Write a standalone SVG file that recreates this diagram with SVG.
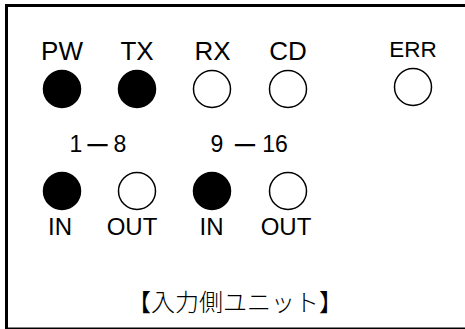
<svg xmlns="http://www.w3.org/2000/svg" width="465" height="329" viewBox="0 0 465 329">
<style>
.lbl{font-family:"Liberation Sans",Arial,sans-serif;fill:#000;text-anchor:middle}
.on{fill:#000;stroke:#000;stroke-width:1.5}
.off{fill:#fff;stroke:#000;stroke-width:1.5}
.dash{font-family:"Noto Sans CJK JP","Noto Sans CJK SC",sans-serif;font-size:28px;font-weight:500}
.jp{font-family:"Noto Sans CJK JP","Noto Sans CJK SC",sans-serif;font-size:24px;font-weight:300;fill:#000;text-anchor:middle}
</style>
<rect width="465" height="329" fill="#fff"/>
<g id="frame"><rect x="6.5" y="5.5" width="470" height="323.5" fill="none" stroke="#000" stroke-width="3"/></g>
<g id="pw"><text class="lbl" x="62" y="60" font-size="26">PW</text><circle class="on" cx="62" cy="89" r="18.5"/></g>
<g id="tx"><text class="lbl" x="137" y="60" font-size="26">TX</text><circle class="on" cx="137" cy="89" r="18.5"/></g>
<g id="rx"><text class="lbl" x="212.5" y="60" font-size="26">RX</text><circle class="off" cx="212" cy="89" r="18.5"/></g>
<g id="cd"><text class="lbl" x="288" y="60" font-size="26">CD</text><circle class="off" cx="288" cy="89" r="18.5"/></g>
<g id="err"><text class="lbl" x="413" y="57" font-size="22.5">ERR</text><circle class="off" cx="413" cy="87" r="18.5"/></g>
<g id="range1"><text class="lbl" font-size="23" y="152"><tspan x="76">1</tspan><tspan x="97.5" dy="4" class="dash">－</tspan><tspan x="120" dy="-4">8</tspan></text></g>
<g id="range2"><text class="lbl" font-size="23" y="152"><tspan x="217">9</tspan><tspan x="245" dy="4" class="dash">－</tspan><tspan x="275" dy="-4">16</tspan></text></g>
<g id="in1"><circle class="on" cx="62" cy="191" r="18.5"/><text class="lbl" x="60" y="235" font-size="24">IN</text></g>
<g id="out1"><circle class="off" cx="137" cy="191" r="18.5"/><text class="lbl" x="132" y="235" font-size="24">OUT</text></g>
<g id="in2"><circle class="on" cx="212" cy="191" r="18.5"/><text class="lbl" x="211.5" y="235" font-size="24">IN</text></g>
<g id="out2"><circle class="off" cx="288" cy="191" r="18.5"/><text class="lbl" x="286" y="235" font-size="24">OUT</text></g>
<g id="title"><text class="jp" x="235" y="311" textLength="216" lengthAdjust="spacingAndGlyphs">【入力側ユニット】</text></g>
<g id="connectors"/>
</svg>
